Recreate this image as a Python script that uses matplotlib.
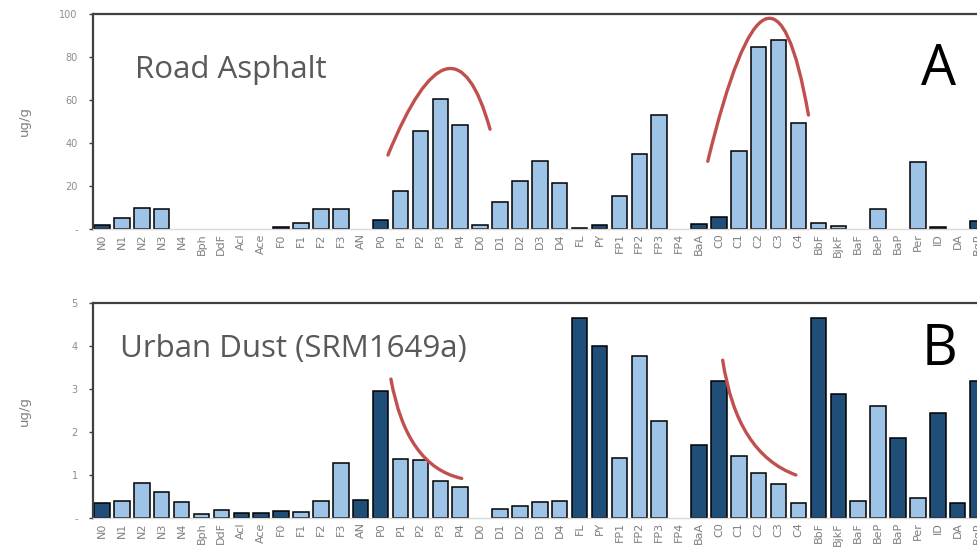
import matplotlib
matplotlib.use("Agg")
import matplotlib.pyplot as plt
from matplotlib.path import Path
from matplotlib.patches import PathPatch

# compound labels along the x axis
compounds = ["N0", "N1", "N2", "N3", "N4", "Bph", "DdF", "Acl", "Ace",
             "F0", "F1", "F2", "F3", "AN", "P0", "P1", "P2", "P3", "P4",
             "D0", "D1", "D2", "D3", "D4", "FL", "PY", "FP1", "FP2", "FP3", "FP4",
             "BaA", "C0", "C1", "C2", "C3", "C4", "BbF", "BjkF", "BaF", "BeP",
             "BaP", "Per", "ID", "DA", "BgP"]

# panel A: road asphalt (ug/g)
asphalt = [1.7, 5.0, 9.9, 9.2, 0, 0, 0, 0, 0,
           0.8, 2.6, 9.2, 9.5, 0, 4.0, 17.7, 45.7, 60.6, 48.4,
           1.9, 12.4, 22.5, 31.5, 21.4, 0.6, 1.7, 15.3, 35.0, 53.0, 0,
           2.2, 5.4, 36.4, 84.8, 87.8, 49.3, 2.8, 1.5, 0, 9.3,
           0, 31.3, 1.1, 0, 3.9]
asphalt_dark = ["N0", "F0", "P0", "FL", "PY", "BaA", "C0", "ID", "BgP"]

# panel B: urban dust SRM1649a (ug/g)
dust = [0.34, 0.39, 0.81, 0.61, 0.38, 0.085, 0.19, 0.12, 0.12,
        0.155, 0.13, 0.39, 1.27, 0.43, 2.95, 1.38, 1.36, 0.85, 0.71,
        0, 0.20, 0.29, 0.37, 0.40, 4.64, 4.01, 1.40, 3.77, 2.26, 0,
        1.69, 3.19, 1.45, 1.05, 0.78, 0.36, 4.64, 2.88, 0.40, 2.61,
        1.86, 0.46, 2.44, 0.36, 3.19]
dust_dark = ["N0", "Acl", "Ace", "F0", "AN", "P0", "FL", "PY", "BaA", "C0",
             "BbF", "BjkF", "BaP", "ID", "DA", "BgP"]

# hand-drawn red trend arcs: (start, control, end) in data coords
asphalt_arcs = [[(14.37, 34.4), (17.64, 108.4), (19.5, 46.4)],
                [(30.44, 31.5), (33.63, 152.75), (35.5, 53.0)]]
dust_arcs = [[(14.52, 3.23), (15.3, 1.2), (18.08, 0.92)],
             [(31.19, 3.67), (31.9, 1.5), (34.87, 1.0)]]

LIGHT = "#9dc3e6"
DARK = "#1f4e79"
RED = "#c0504d"
GREY = "#595959"


def draw_panel(ax, values, dark, ymax, yticks, title, title_xy, letter, letter_xy, arcs):
    x = range(len(compounds))
    colors = [DARK if c in dark else LIGHT for c in compounds]
    widths = [1.1 if v > 0 else 0 for v in values]
    ax.bar(x, values, width=0.78, color=colors, edgecolor="black", linewidth=widths, zorder=2)
    ax.set_xlim(-0.45, 44.02)
    ax.set_ylim(0, ymax)
    ax.set_xticks(list(x))
    ax.set_xticklabels(compounds, rotation=90, fontsize=8, color="#7f7f7f")
    ax.set_yticks(yticks)
    ax.set_yticklabels(["-"] + [str(t) for t in yticks[1:]], fontsize=7, color="#8c8c8c")
    ax.tick_params(axis="x", length=0, pad=3)
    ax.tick_params(axis="y", length=3, width=1, color="#404040", pad=8)
    ax.set_ylabel("ug/g", fontsize=9.5, color="#7f7f7f")
    ax.yaxis.set_label_coords(-0.070, 0.5)
    for side in ["left", "top"]:
        ax.spines[side].set_color("#404040")
        ax.spines[side].set_linewidth(1.6)
    ax.spines["right"].set_visible(False)
    ax.spines["bottom"].set_color("#d9d9d9")
    ax.spines["bottom"].set_linewidth(1.0)
    for pts in arcs:
        path = Path(pts, [Path.MOVETO, Path.CURVE3, Path.CURVE3])
        ax.add_patch(PathPatch(path, facecolor="none", edgecolor=RED, linewidth=2.4,
                               capstyle="round", zorder=3, clip_on=False))
    ax.text(title_xy[0], title_xy[1], title, transform=ax.transAxes, fontsize=22.5,
            color=GREY, family="Open Sans", va="baseline")
    ax.text(letter_xy[0], letter_xy[1], letter, transform=ax.transAxes, fontsize=40,
            color="black", family="Open Sans", va="baseline", ha="center")


fig = plt.figure(figsize=(9.78, 5.57), dpi=100)
ax_a = fig.add_axes([93 / 978, 1 - 229 / 557, 1 - 93 / 978, 215 / 557])
ax_b = fig.add_axes([93 / 978, 1 - 518 / 557, 1 - 93 / 978, 215 / 557])

draw_panel(ax_a, asphalt, asphalt_dark, 100, [0, 20, 40, 60, 80, 100],
           "Road Asphalt", (0.0475, 0.702), "A", (0.955, 0.670), asphalt_arcs)
draw_panel(ax_b, dust, dust_dark, 5, [0, 1, 2, 3, 4, 5],
           "Urban Dust (SRM1649a)", (0.0305, 0.749), "B", (0.956, 0.712), dust_arcs)

fig.savefig("out.png", dpi=100)
